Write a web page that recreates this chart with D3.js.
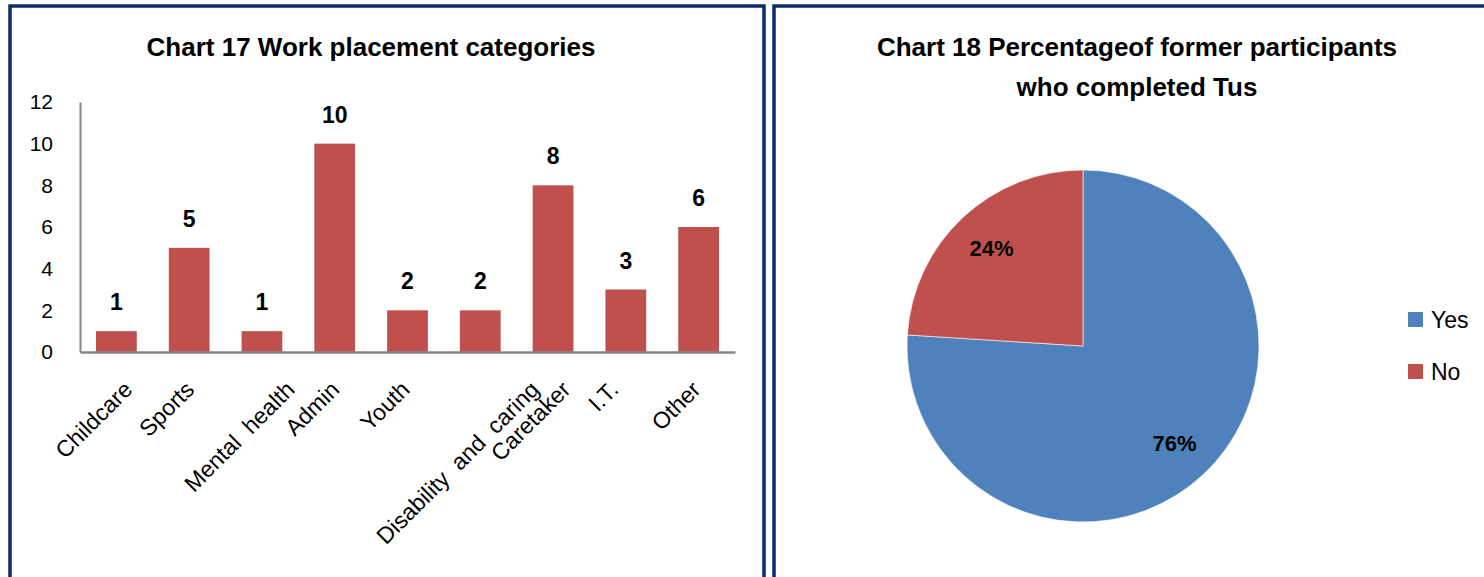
<!DOCTYPE html>
<html>
<head>
<meta charset="utf-8">
<script src="https://cdn.jsdelivr.net/npm/d3@7"></script>
<style>
  html, body { margin: 0; padding: 0; background: #fff; }
  svg { display: block; font-family: "Liberation Sans", Arial, sans-serif; }
</style>
</head>
<body>
<svg id="chart" width="1484" height="577"></svg>
<script>
// Chart 17: work placement categories
const categories = ["Childcare", "Sports", "Mental  health", "Admin", "Youth",
                    "Disability  and  caring", "Caretaker", "I.T.", "Other"];
const placements = [1, 5, 1, 10, 2, 2, 8, 3, 6];
const yTicks = [0, 2, 4, 6, 8, 10, 12];

// Chart 18: completion of Tus
const completionLabels = ["Yes", "No"];
const completionShares = [76, 24];

const svg = d3.select("#chart");
const navy = "#0d2a6b";
const barRed = "#c0504d";
const pieColors = ["#4f81bd", "#c0504d"];

// panel frames
svg.append("rect").attr("x", 10).attr("y", 6).attr("width", 754).attr("height", 700)
  .attr("fill", "none").attr("stroke", navy).attr("stroke-width", 3.5);
svg.append("rect").attr("x", 774).attr("y", 6).attr("width", 800).attr("height", 700)
  .attr("fill", "none").attr("stroke", navy).attr("stroke-width", 3.5);

// ---------- bar chart ----------
const left = svg.append("g");
left.append("text").attr("x", 371).attr("y", 56).attr("text-anchor", "middle")
  .attr("font-weight", "bold").attr("font-size", 26).text("Chart 17 Work placement categories");

const x = d3.scaleBand().domain(categories).range([80, 735]).paddingInner(0.44).paddingOuter(0.22);
const y = d3.scaleLinear().domain([0, 12]).range([352, 102]);

left.selectAll("rect.bar").data(categories).join("rect").attr("class", "bar")
  .attr("x", d => x(d)).attr("width", x.bandwidth())
  .attr("y", (d, i) => y(placements[i])).attr("height", (d, i) => y(0) - y(placements[i]))
  .attr("fill", barRed);

// y axis: line + labels, no tick marks
const yAxis = d3.axisLeft(y).tickValues(yTicks).tickSize(0).tickPadding(27);
const yg = left.append("g").attr("transform", "translate(80,0)").call(yAxis);
yg.select(".domain").attr("stroke", "#878787").attr("stroke-width", 2);
yg.selectAll("text").attr("font-size", 21).attr("fill", "#000")
  .attr("font-family", "Liberation Sans, Arial, sans-serif");

// x axis line
const xAxis = d3.axisBottom(x).tickSize(0).tickFormat("");
const xg = left.append("g").attr("transform", "translate(0,352)").call(xAxis);
xg.select(".domain").attr("stroke", "#878787").attr("stroke-width", 2.5);

// value labels
left.selectAll("text.val").data(categories).join("text").attr("class", "val")
  .attr("x", d => x(d) + x.bandwidth() / 2)
  .attr("y", (d, i) => y(placements[i]) - 21)
  .attr("text-anchor", "middle").attr("font-weight", "bold").attr("font-size", 23)
  .text((d, i) => placements[i]);

// rotated category labels, rotated box centred on each category
const catLabels = left.selectAll("text.cat").data(categories).join("text").attr("class", "cat")
  .attr("font-size", 23).attr("text-anchor", "end").attr("xml:space", "preserve")
  .style("white-space", "pre")
  .text(d => d);
catLabels.each(function (d) {
  const len = this.getComputedTextLength();
  const cx = x(d) + x.bandwidth() / 2;
  const ax = cx + len * 0.354 - 17;
  const ay = 391;
  d3.select(this).attr("transform", `translate(${ax},${ay}) rotate(-45)`);
});

// ---------- pie chart ----------
const right = svg.append("g");
right.append("text").attr("x", 1137).attr("y", 56).attr("text-anchor", "middle")
  .attr("font-weight", "bold").attr("font-size", 26).text("Chart 18 Percentageof former participants");
right.append("text").attr("x", 1137).attr("y", 96).attr("text-anchor", "middle")
  .attr("font-weight", "bold").attr("font-size", 26).text("who completed Tus");

const cx = 1083, cy = 346, r = 176;
const pie = d3.pie().sort(null).value(d => d)(completionShares);
const arc = d3.arc().innerRadius(0).outerRadius(r);
const labelArc = d3.arc().innerRadius(r * 0.76).outerRadius(r * 0.76);
const pg = right.append("g").attr("transform", `translate(${cx},${cy})`);
pg.selectAll("path").data(pie).join("path")
  .attr("d", arc).attr("fill", (d, i) => pieColors[i])
  .attr("stroke", "#fff").attr("stroke-width", 0.6);
pg.selectAll("text").data(pie).join("text")
  .attr("transform", d => `translate(${labelArc.centroid(d)})`)
  .attr("text-anchor", "middle").attr("dominant-baseline", "central")
  .attr("font-weight", "bold").attr("font-size", 22)
  .text(d => d.data + "%");

// legend
const lg = right.append("g");
completionLabels.forEach((lab, i) => {
  const ly = 312 + i * 52;
  lg.append("rect").attr("x", 1408).attr("y", ly).attr("width", 15).attr("height", 15)
    .attr("fill", pieColors[i]);
  lg.append("text").attr("x", 1431).attr("y", ly + 16).attr("font-size", 23).text(lab);
});
</script>
</body>
</html>
